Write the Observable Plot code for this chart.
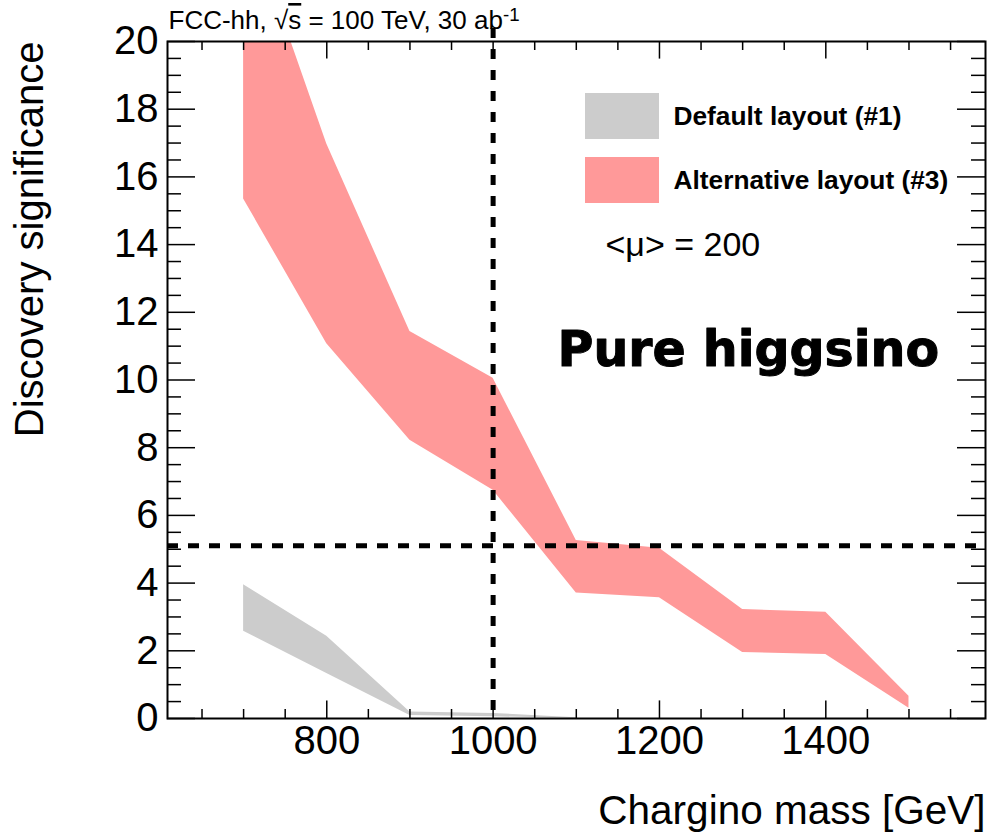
<!DOCTYPE html>
<html><head><meta charset="utf-8">
<script src="https://cdn.jsdelivr.net/npm/d3@7"></script>
<script src="https://cdn.jsdelivr.net/npm/@observablehq/plot@0.6"></script>
<style>body{margin:0;background:#fff} #chart svg{font-family:"Liberation Sans",Arial,Helvetica,sans-serif}</style>
</head><body><div id="chart"></div>
<script>
// data
const massAlt = [700, 800, 900, 1000, 1100, 1200, 1300, 1400, 1500];
const altLow  = [15.35, 11.07, 8.22, 6.74, 3.71, 3.57, 1.95, 1.89, 0.30];
const altHigh = [24.0, 16.97, 11.43, 10.05, 5.26, 5.03, 3.22, 3.14, 0.66];
const massDef = [700, 800, 900, 1000, 1100];
const defLow  = [2.58, 1.33, 0.09, 0.05, 0.0];
const defHigh = [3.95, 2.43, 0.19, 0.15, 0.02];
const xMajor = [800, 1000, 1200, 1400];
const xMinor = [650, 700, 750, 850, 900, 950, 1050, 1100, 1150, 1250, 1300, 1350, 1450, 1500, 1550];
const yMajor = [0, 2, 4, 6, 8, 10, 12, 14, 16, 18, 20];
const yMinor = d3.range(0, 20.01, 0.5).filter(v => v % 2 !== 0);
const massCut = [1000];
const sigCut = [5.1];
const titleParts = ["FCC-hh, √", "s", " = 100 TeV, 30 ab", "-1"];
const titleText = titleParts.join("");
const xLabel = "Chargino mass [GeV]";
const yLabel = "Discovery significance";
const legendLabels = ["Default layout (#1)", "Alternative layout (#3)"];
const puText = "<μ> = 200";
const modelText = "Pure higgsino";

const alt = massAlt.map((m, i) => ({m, lo: altLow[i], hi: altHigh[i]}));
const def = massDef.map((m, i) => ({m, lo: defLow[i], hi: defHigh[i]}));

const W = 989, H = 833, mL = 167, mR = 4, mT = 41, mB = 115;
const fw = W - mL - mR, fh = H - mT - mB;
const red = "#ff9999", gray = "#cccccc";

const chart = Plot.plot({
  width: W, height: H,
  marginLeft: mL, marginRight: mR, marginTop: mT, marginBottom: mB,
  x: {domain: [608.5, 1592], axis: null},
  y: {domain: [0, 20], axis: null},
  style: {fontFamily: '"Liberation Sans", Arial, Helvetica, sans-serif', background: "#fff"},
  marks: [
    Plot.areaY(alt, {x: "m", y1: "lo", y2: "hi", fill: red, clip: true}),
    Plot.areaY(def, {x: "m", y1: "lo", y2: "hi", fill: gray, clip: true}),
    // ticks
    Plot.ruleX(xMajor, {x: d => d, insetTop: fh - 17.6, stroke: "black", strokeWidth: 1.5}),
    Plot.ruleX(xMajor, {x: d => d, insetBottom: fh - 17.6, stroke: "black", strokeWidth: 1.5}),
    Plot.ruleX(xMinor, {x: d => d, insetTop: fh - 9, stroke: "black", strokeWidth: 1.5}),
    Plot.ruleX(xMinor, {x: d => d, insetBottom: fh - 9, stroke: "black", strokeWidth: 1.5}),
    Plot.ruleY(yMajor, {y: d => d, insetRight: fw - 28, stroke: "black", strokeWidth: 1.5}),
    Plot.ruleY(yMajor, {y: d => d, insetLeft: fw - 28, stroke: "black", strokeWidth: 1.5}),
    Plot.ruleY(yMinor, {y: d => d, insetRight: fw - 14, stroke: "black", strokeWidth: 1.5}),
    Plot.ruleY(yMinor, {y: d => d, insetLeft: fw - 14, stroke: "black", strokeWidth: 1.5}),
    // dashed cut lines
    Plot.ruleX(massCut, {x: d => d, insetTop: -13, stroke: "black", strokeWidth: 5, strokeDasharray: "10,11"}),
    Plot.ruleY(sigCut, {y: d => d, stroke: "black", strokeWidth: 5, strokeDasharray: "11,10"}),
    Plot.frame({stroke: "black", strokeWidth: 2}),
    // tick labels
    Plot.text(xMajor, {x: d => d, text: d => String(d), frameAnchor: "bottom", dy: 23, lineAnchor: "middle", fontSize: 40, fill: "black"}),
    Plot.text(yMajor, {y: d => d, text: d => String(d), frameAnchor: "left", dx: -9, textAnchor: "end", lineAnchor: "middle", fontSize: 40, fill: "black"}),
    // axis titles
    Plot.text([xLabel], {frameAnchor: "bottom-right", dy: 105, textAnchor: "end", lineAnchor: "bottom", fontSize: 40.5, fill: "black"}),
    Plot.text([yLabel], {frameAnchor: "top-left", dx: 42 - mL, dy: 0, rotate: -90, textAnchor: "end", lineAnchor: "bottom", fontSize: 40, fill: "black"}),
    // title
    Plot.text([titleText], {frameAnchor: "top-left", dx: 1, dy: -12.5, textAnchor: "start", lineAnchor: "bottom", fontSize: 26, fill: "black"}),
    // legend
    Plot.rect([0], {insetLeft: 585 - mL, insetRight: W - mR - 659, insetTop: 93 - mT, insetBottom: (H - mB) - 139, fill: gray}),
    Plot.rect([0], {insetLeft: 585 - mL, insetRight: W - mR - 659, insetTop: 157 - mT, insetBottom: (H - mB) - 203, fill: red}),
    Plot.text([legendLabels[0]], {frameAnchor: "top-left", dx: 673 - mL, dy: 116 - mT, textAnchor: "start", lineAnchor: "middle", fontSize: 26.3, fontWeight: "bold", fill: "black"}),
    Plot.text([legendLabels[1]], {frameAnchor: "top-left", dx: 673 - mL, dy: 180 - mT, textAnchor: "start", lineAnchor: "middle", fontSize: 26.3, fontWeight: "bold", fill: "black"}),
    Plot.text([puText], {frameAnchor: "top-left", dx: 605 - mL, dy: 255 - mT, textAnchor: "start", lineAnchor: "bottom", fontSize: 34, fill: "black"}),
    Plot.text([modelText], {frameAnchor: "top-left", dx: 557 - mL, dy: 365 - mT, textAnchor: "start", lineAnchor: "bottom", fontSize: 49, fontWeight: "bold", fontFamily: '"DejaVu Sans", sans-serif', stroke: "black", strokeWidth: 1, fill: "black"})
  ]
});
// rich formatting of the title: overline on s, superscript -1
d3.select(chart).selectAll("text").each(function() {
  if (this.textContent === titleText) {
    const t = d3.select(this);
    t.text(null);
    t.append("tspan").text(titleParts[0]);
    t.append("tspan").text(titleParts[1]).style("text-decoration", "overline");
    t.append("tspan").text(titleParts[2]);
    t.append("tspan").text(titleParts[3]).attr("dy", "-0.45em").attr("font-size", "0.72em");
  }
});
document.getElementById("chart").appendChild(chart);
</script>
</body></html>
